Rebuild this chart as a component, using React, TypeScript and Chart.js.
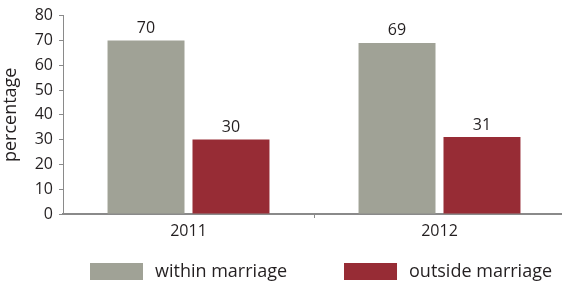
import React, { useEffect, useRef } from "react";
import { Chart, registerables } from "chart.js";

Chart.register(...registerables);

const categories = ["2011", "2012"];
const seriesNames = ["within marriage", "outside marriage"];
const withinMarriage = [70, 69];
const outsideMarriage = [30, 31];
const yTicks = [0, 10, 20, 30, 40, 50, 60, 70, 80];
const colors = ["#a0a296", "#972c35"];

const FONT = "'Open Sans', 'Noto Sans', sans-serif";
const TEXT = "#231f20";
const AXIS = "#8a8a8a";

const valueLabels = {
  id: "valueLabels",
  afterDatasetsDraw(chart: any) {
    const ctx = chart.ctx;
    ctx.save();
    ctx.font = `16px ${FONT}`;
    ctx.fillStyle = TEXT;
    ctx.textAlign = "center";
    ctx.textBaseline = "bottom";
    chart.data.datasets.forEach((ds: any, i: number) => {
      const meta = chart.getDatasetMeta(i);
      meta.data.forEach((el: any, j: number) => {
        ctx.fillText(String(ds.data[j]), el.x, el.y - 4);
      });
    });
    ctx.restore();
  },
};

const bottomLegend = {
  id: "bottomLegend",
  afterDraw(chart: any) {
    const ctx = chart.ctx;
    const area = chart.chartArea;
    ctx.save();
    ctx.font = `18px ${FONT}`;
    ctx.textBaseline = "middle";
    ctx.textAlign = "left";
    const boxW = 53;
    const boxH = 17;
    const gap = 12;
    const itemGap = 57;
    const yTop = chart.height - 21;
    let x = area.left + 27;
    chart.data.datasets.forEach((ds: any) => {
      ctx.fillStyle = ds.backgroundColor;
      ctx.fillRect(x, yTop, boxW, boxH);
      x += boxW + gap;
      ctx.fillStyle = TEXT;
      ctx.fillText(ds.label, x, yTop + boxH / 2);
      x += ctx.measureText(ds.label).width + itemGap;
    });
    ctx.restore();
  },
};

export default function App() {
  const ref = useRef<HTMLCanvasElement | null>(null);

  useEffect(() => {
    document.body.style.margin = "0";
    const canvas = ref.current;
    if (!canvas) return;
    const chart = new Chart(canvas, {
      type: "bar",
      data: {
        labels: categories,
        datasets: [
          {
            label: seriesNames[0],
            data: withinMarriage,
            backgroundColor: colors[0],
            categoryPercentage: 0.677,
            barPercentage: 0.906,
          },
          {
            label: seriesNames[1],
            data: outsideMarriage,
            backgroundColor: colors[1],
            categoryPercentage: 0.677,
            barPercentage: 0.906,
          },
        ],
      },
      options: {
        animation: false,
        responsive: false,
        maintainAspectRatio: false,
        layout: { padding: { top: 14, bottom: 44, left: 0, right: 1 } },
        plugins: {
          legend: { display: false },
          tooltip: { enabled: false },
        },
        scales: {
          x: {
            grid: {
              drawOnChartArea: false,
              drawTicks: true,
              tickLength: 4,
              color: (c: any) => (c.index === 1 ? AXIS : "rgba(0,0,0,0)"),
            },
            border: { color: AXIS, width: 2 },
            ticks: { color: TEXT, font: { family: FONT, size: 16 }, padding: 4 },
            afterFit: (s: any) => {
              s.height = 26;
            },
          },
          y: {
            min: 0,
            max: 80,
            afterBuildTicks: (s: any) => {
              s.ticks = yTicks.map((v) => ({ value: v }));
            },
            grid: {
              drawOnChartArea: false,
              drawTicks: true,
              tickLength: 4,
              color: AXIS,
            },
            border: { color: AXIS, width: 1 },
            ticks: { color: TEXT, font: { family: FONT, size: 16 }, padding: 6 },
            title: {
              display: true,
              text: "percentage",
              color: TEXT,
              font: { family: FONT, size: 18 },
              padding: { top: 0, bottom: 0 },
            },
            afterFit: (s: any) => {
              s.width = 63;
            },
          },
        },
      },
      plugins: [valueLabels, bottomLegend],
    });
    return () => chart.destroy();
  }, []);

  return (
    <div style={{ width: 562, height: 284, overflow: "hidden" }}>
      <canvas ref={ref} width={566} height={284} style={{ display: "block" }} />
    </div>
  );
}
